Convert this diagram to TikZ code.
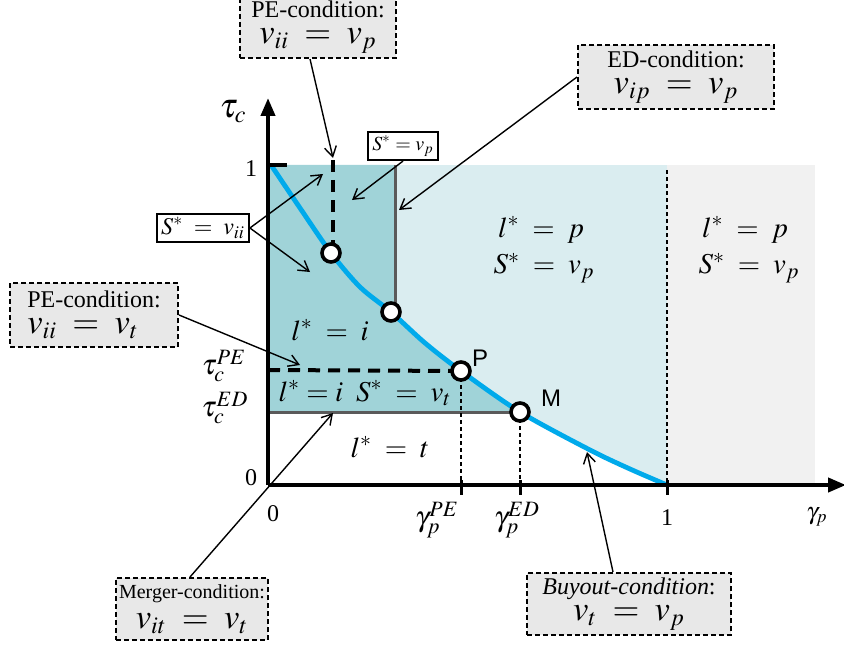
\documentclass[tikz,border=0pt]{standalone}
\usepackage{mathptmx}
\usepackage[no-math]{fontspec}
\setmainfont{Liberation Serif}
\newfontfamily\ptfont{Liberation Sans}
\usetikzlibrary{arrows.meta}

\definecolor{tealreg}{RGB}{160,211,216}
\definecolor{lightreg}{RGB}{218,237,240}
\definecolor{greyreg}{RGB}{241,241,241}
\definecolor{curveblue}{RGB}{0,170,235}
\definecolor{boxgrey}{RGB}{232,232,232}
\definecolor{bordergrey}{RGB}{90,90,90}

\tikzset{
  condbox/.style={draw, line width=1pt, dash pattern=on 2.5pt off 1.5pt, fill=boxgrey, align=center, inner sep=1.5pt},
  eqbox/.style={draw, line width=1pt, fill=white, inner sep=2pt},
  pointer/.style={-{Straight Barb[length=5pt,width=6pt]}, line width=0.7pt},
  eqpt/.style={circle, draw, line width=1.8pt, fill=white, inner sep=0pt, minimum size=9pt},
  region/.style={font=\Large},
  bound/.style={bordergrey, line width=1.5pt},
  thickdash/.style={line width=2pt, dash pattern=on 6pt off 4pt},
  guide/.style={line width=0.8pt, dash pattern=on 2pt off 1.5pt},
}

\begin{document}
\begin{tikzpicture}[x=0.5pt,y=-0.5pt]
\useasboundingbox (0,0) rectangle (844,652);

% regions of the (gamma_p, tau_c) plane
\fill[greyreg] (667,165) rectangle (815,485);
\fill[lightreg] (268,165) rectangle (667,485);
\fill[white] plot[smooth] coordinates {(271,165) (300,208) (331,253) (360,287) (391,312) (425,343) (461,371) (520,412) (590,450) (630,469) (667,485)} -- (268,485) -- cycle;
\fill[tealreg] (268,165) -- (395,165) -- (395,312) -- plot[smooth] coordinates {(391,312) (425,343) (461,371) (520,412)} -- (268,412) -- cycle;

% boundaries
\draw[bound] (395,165) -- (395,312);
\draw[bound] (268,412) -- (520,412);
\draw[thickdash] (333,160) -- (333,253);
\draw[thickdash] (268,370) -- (461,371);
\draw[guide] (461,371) -- (461,485);
\draw[guide] (520,412) -- (520,485);
\draw[guide] (667,170) -- (667,485);

% buyout curve
\draw[curveblue, line width=2.4pt] plot[smooth] coordinates {(271,165) (300,208) (331,253) (360,287) (391,312) (425,343) (461,371) (520,412) (590,450) (630,469) (667,485)};

% axes and ticks
\draw[line width=2pt, -{Triangle[length=9pt,width=7pt]}] (268,485) -- (846,485);
\draw[line width=2pt, -{Triangle[length=9pt,width=7pt]}] (268,485) -- (268,98);
\draw[line width=2pt] (268,165) -- (287,165);
\foreach \xt in {461,520,667} {
  \draw[line width=1.5pt] (\xt,480) -- (\xt,495);
}

% points on the curve
\node[eqpt] (ptA) at (331,253) {};
\node[eqpt] (ptB) at (391,312) {};
\node[eqpt] (ptP) at (461,371) {};
\node[eqpt] (ptM) at (520,412) {};
\node[font=\ptfont\large] (labP) at (480,358) {P};
\node[font=\ptfont\large] (labM) at (551,398) {M};

% axis labels
\node[font=\LARGE] (tauc) at (233,112) {$\tau_c$};
\node[font=\large] (yone) at (251,169) {1};
\node[font=\large] (yzero) at (251,478) {0};
\node[font=\large] (xzero) at (273,514) {0};
\node[font=\large] (xone) at (667,518) {1};
\node[font=\Large] (taupe) at (224,366) {$\tau_c^{PE}$};
\node[font=\Large] (taued) at (225,408) {$\tau_c^{ED}$};
\node[font=\Large] (gampe) at (437,520) {$\gamma_p^{PE}$};
\node[font=\Large] (gamed) at (517,520) {$\gamma_p^{ED}$};
\node[font=\large] (gamp) at (817,517) {$\gamma_p$};

% region labels
\node[region] (lp) at (541,230) {$l^* \;=\; p$};
\node[region] (svpa) at (544,268) {$S^* \;=\; v_p$};
\node[region] (lpr) at (745,230) {$l^* \;=\; p$};
\node[region] (svpb) at (749,268) {$S^* \;=\; v_p$};
\node[region] (li) at (330,330) {$l^* \;=\; i$};
\node[region] (livt) at (365,393) {$l^* = i\;\; S^* \;=\; v_t$};
\node[region] (lt) at (390,447) {$l^* \;=\; t$};

% condition boxes
\node[condbox, minimum width=78pt, minimum height=31pt] (pevp) at (318,27)
  {{\large PE-condition:}\\[1pt] {\LARGE $v_{ii} \;=\; v_p$}};
\node[condbox, minimum width=98pt, minimum height=32pt] (edvp) at (676,77)
  {{\large ED-condition:}\\[1pt] {\LARGE $v_{ip} \;=\; v_p$}};
\node[condbox, minimum width=84pt, minimum height=32pt, align=left] (pevt) at (94,315)
  {{\large PE-condition:}\\[1pt] {\LARGE $v_{ii} \;=\; v_t$}};
\node[condbox, minimum width=74pt, minimum height=31pt] (mergvt) at (192,609)
  {{\normalsize Merger-condition:}\\[3pt] {\LARGE $v_{it} \;=\; v_t$}};
\node[condbox, minimum width=102pt, minimum height=31pt] (buyvp) at (629,604)
  {{\large \textit{Buyout-condition}:}\\[1pt] {\LARGE $v_t \;=\; v_p$}};
\node[eqbox, font=\normalsize] (seqp) at (403,146) {$S^* = v_p$};
\node[eqbox, font=\large] (seqii) at (203,228) {$S^* \;=\; v_{ii}$};

% pointers
\coordinate (tipPE) at (333,158);
\coordinate (tipED) at (399,210);
\coordinate (tipSp) at (352,200);
\coordinate (tipSa) at (323,174);
\coordinate (tipSb) at (310,272);
\coordinate (tipPT) at (300,365);
\coordinate (tipMe) at (333,413);
\coordinate (tipBu) at (587,452);
\draw[pointer] ([xshift=-4pt]pevp.south) -- (tipPE);
\draw[pointer] (edvp.west) -- (tipED);
\draw[pointer] (seqp.south) -- (tipSp);
\draw[pointer] (seqii.east) -- (tipSa);
\draw[pointer] (seqii.east) -- (tipSb);
\draw[pointer] (pevt.east) -- (tipPT);
\draw[pointer] ([xshift=-1pt]mergvt.north) -- (tipMe);
\draw[pointer] ([xshift=-8pt]buyvp.north) -- (tipBu);
\end{tikzpicture}
\end{document}
